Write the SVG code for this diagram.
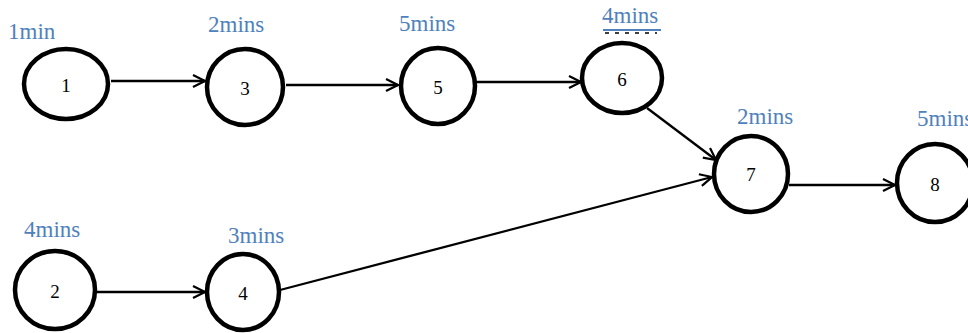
<svg xmlns="http://www.w3.org/2000/svg" width="968" height="333" viewBox="0 0 968 333">
  <style>
    .node ellipse { fill: #fff; stroke: #000; stroke-width: 4.5; }
    text { font-family: "Liberation Serif", "Times New Roman", serif; }
    .num { font-size: 19px; fill: #000; text-anchor: middle; }
    .time { font-size: 23px; fill: #4f81bd; }
    .edge { stroke: #000; stroke-width: 2.3; fill: none; marker-end: url(#arrow); }
  </style>
  <defs>
    <marker id="arrow" viewBox="0 0 14 14" refX="13" refY="7" markerWidth="14" markerHeight="14" markerUnits="userSpaceOnUse" orient="auto">
      <path d="M1,1 L13,7 L1,13" fill="none" stroke="#000" stroke-width="2.2"/>
    </marker>
  </defs>
  <rect width="968" height="333" fill="#fff"/>

  <!-- duration labels -->
  <g id="labels">
    <text class="time" x="8" y="39">1min</text>
    <text class="time" x="208" y="32">2mins</text>
    <text class="time" x="399" y="31">5mins</text>
    <text class="time" x="602" y="23">4mins</text>
    <line x1="603" y1="30" x2="661" y2="30" stroke="#4f81bd" stroke-width="2"/>
    <line x1="605" y1="33" x2="657" y2="33" stroke="#000" stroke-width="1.5" stroke-dasharray="4,6"/>
    <text class="time" x="737" y="124">2mins</text>
    <text class="time" x="917" y="126">5mins</text>
    <text class="time" x="24" y="237">4mins</text>
    <text class="time" x="228" y="243">3mins</text>
  </g>

  <!-- connectors -->
  <g id="connectors">
    <line class="edge" x1="111" y1="81" x2="205" y2="81"/>
    <line class="edge" x1="286" y1="85" x2="398" y2="85"/>
    <line class="edge" x1="472" y1="82" x2="581" y2="82"/>
    <line class="edge" x1="647" y1="108" x2="716" y2="160"/>
    <line class="edge" x1="280" y1="290" x2="712" y2="177"/>
    <line class="edge" x1="97" y1="292" x2="205" y2="292"/>
    <line class="edge" x1="789" y1="185" x2="895" y2="185"/>
  </g>

  <!-- nodes -->
  <g id="node1" class="node"><ellipse cx="66" cy="84" rx="42" ry="35"/><text class="num" x="66" y="92">1</text></g>
  <g id="node3" class="node"><ellipse cx="245" cy="87" rx="38" ry="38"/><text class="num" x="245" y="95">3</text></g>
  <g id="node5" class="node"><ellipse cx="438" cy="86" rx="37" ry="38"/><text class="num" x="438" y="94">5</text></g>
  <g id="node6" class="node"><ellipse cx="622" cy="78" rx="40" ry="35"/><text class="num" x="622" y="86">6</text></g>
  <g id="node7" class="node"><ellipse cx="751" cy="174" rx="37" ry="38"/><text class="num" x="751" y="181">7</text></g>
  <g id="node8" class="node"><ellipse cx="935" cy="183" rx="38" ry="39"/><text class="num" x="935" y="191">8</text></g>
  <g id="node2" class="node"><ellipse cx="55" cy="290" rx="40" ry="39"/><text class="num" x="55" y="298">2</text></g>
  <g id="node4" class="node"><ellipse cx="243" cy="292" rx="36" ry="38"/><text class="num" x="243" y="300">4</text></g>
</svg>
